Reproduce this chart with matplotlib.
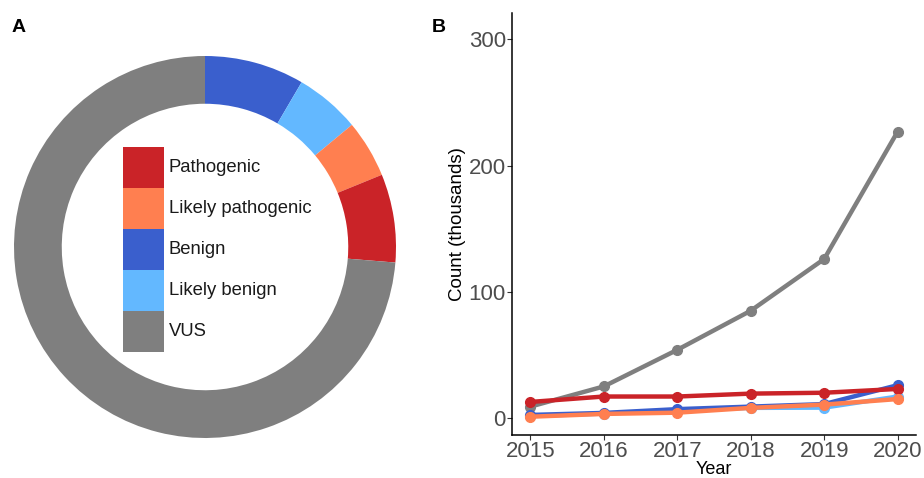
import matplotlib.pyplot as plt
from matplotlib.patches import Rectangle

# data
years = [2015, 2016, 2017, 2018, 2019, 2020]
vus = [9, 25, 54, 85, 126, 227]
pathogenic = [12.7, 17, 17, 19.3, 20, 23]
likely_pathogenic = [1, 3.2, 4.2, 8, 10.6, 15]
benign = [2.4, 4, 7, 9, 11, 26]
likely_benign = [1.5, 3.5, 6, 8, 8.2, 17]

# donut uses 2020 counts, clockwise from top
donut_labels = ['Benign', 'Likely benign', 'Likely pathogenic', 'Pathogenic', 'VUS']
donut_values = [benign[-1], likely_benign[-1], likely_pathogenic[-1], pathogenic[-1], vus[-1]]

legend_labels = ['Pathogenic', 'Likely pathogenic', 'Benign', 'Likely benign', 'VUS']

colors = {
    'Pathogenic': '#CA2328',
    'Likely pathogenic': '#FF7F50',
    'Benign': '#3A5FCD',
    'Likely benign': '#63B8FF',
    'VUS': '#7F7F7F',
}

plt.rcParams['font.family'] = ['Liberation Sans', 'DejaVu Sans']

fig = plt.figure(figsize=(9.24, 4.78), dpi=100)

# ---- panel A: donut
W, H = 924, 478
cx, cy, r = 205, 247, 191
axA = fig.add_axes([(cx - r) / W, 1 - (cy + r) / H, 2 * r / W, 2 * r / H])
axA.pie(donut_values, colors=[colors[k] for k in donut_labels], startangle=90,
        counterclock=False, radius=1, wedgeprops=dict(width=0.25, linewidth=0))
axA.set_xlim(-1, 1)
axA.set_ylim(-1, 1)
axA.set_aspect('equal')
axA.axis('off')

# legend inside the donut
box = 41 / r
x0 = (123 - cx) / r
y_top = (cy - 147) / r
for i, lab in enumerate(legend_labels):
    y = y_top - (i + 1) * box
    axA.add_patch(Rectangle((x0, y), box, box, facecolor=colors[lab], edgecolor='none'))
    axA.text(x0 + box + 0.025, y + box / 2, lab, fontsize=13.3, va='center', ha='left', color='#1A1A1A')

# ---- panel B: lines
axB = fig.add_axes([512 / W, 1 - 435 / H, (916 - 512) / W, (435 - 13) / H])
series = [('VUS', vus), ('Likely benign', likely_benign), ('Benign', benign),
          ('Pathogenic', pathogenic), ('Likely pathogenic', likely_pathogenic)]
for lab, vals in series:
    axB.plot(years, vals, color=colors[lab], linewidth=3.2, marker='o', markersize=7,
             solid_capstyle='round')

axB.set_xlim(2014.75, 2020.25)
axB.set_ylim(-13.5, 321)
axB.set_xticks(years)
axB.set_yticks([0, 100, 200, 300])
axB.spines['top'].set_visible(False)
axB.spines['right'].set_visible(False)
axB.spines['left'].set_linewidth(1.1)
axB.spines['bottom'].set_linewidth(1.1)
axB.tick_params(axis='both', labelsize=16, labelcolor='#4D4D4D', color='#333333',
                length=3.5, width=0.8, pad=1)
axB.set_xlabel('Year', fontsize=13, labelpad=-1)
axB.set_ylabel('Count (thousands)', fontsize=13.5, labelpad=2)

# panel letters
fig.text(12 / W, 1 - 28 / H, 'A', fontsize=14, fontweight='bold', va='center', ha='left')
fig.text(432 / W, 1 - 28 / H, 'B', fontsize=14, fontweight='bold', va='center', ha='left')

fig.savefig('out.png', dpi=100)
